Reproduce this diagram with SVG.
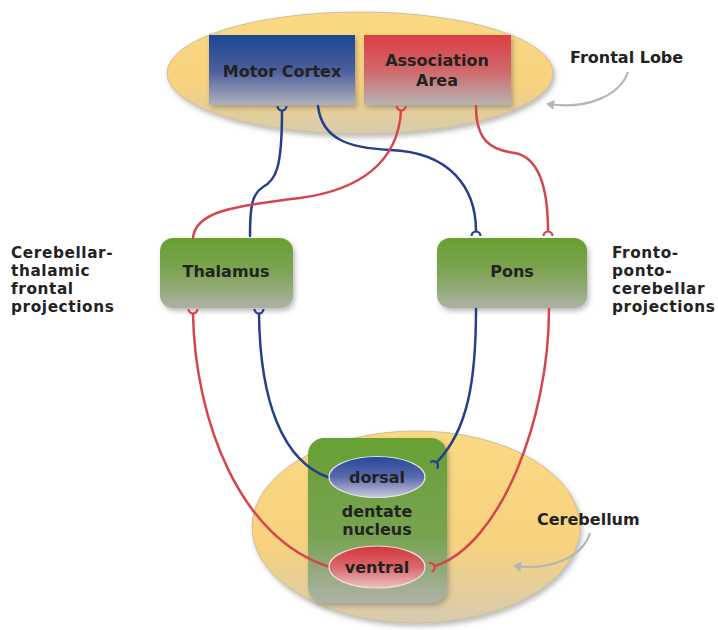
<svg xmlns="http://www.w3.org/2000/svg" width="718" height="630" viewBox="0 0 718 630">
<style>
.t{font-family:"DejaVu Sans",Verdana,sans-serif;font-weight:bold;font-size:16px;fill:#222}
.l{font-size:15.3px;letter-spacing:0.6px}
.c{text-anchor:middle}
.b{fill:none;stroke:#253f8c;stroke-width:2.5;stroke-linecap:round}
.r{fill:none;stroke:#d6454d;stroke-width:2.5;stroke-linecap:round}
.g{fill:none;stroke:#b5b5b5;stroke-width:2.2}
</style>
<defs>
<linearGradient id="gy" x1="0" y1="0" x2="0" y2="1"><stop offset="0" stop-color="#fbd983"/><stop offset="0.6" stop-color="#f7d27f"/><stop offset="1" stop-color="#d6cbb0"/></linearGradient>
<linearGradient id="gb" x1="0" y1="0" x2="0" y2="1"><stop offset="0" stop-color="#1d4894"/><stop offset="0.5" stop-color="#4a5d9c"/><stop offset="1" stop-color="#b0b1bd"/></linearGradient>
<linearGradient id="gr" x1="0" y1="0" x2="0" y2="1"><stop offset="0" stop-color="#dc3e45"/><stop offset="0.5" stop-color="#d0676a"/><stop offset="1" stop-color="#b8b3b3"/></linearGradient>
<linearGradient id="gg" x1="0" y1="0" x2="0" y2="1"><stop offset="0" stop-color="#67a031"/><stop offset="0.45" stop-color="#7ca350"/><stop offset="1" stop-color="#acb1a3"/></linearGradient>
<linearGradient id="gd" x1="0" y1="0" x2="0" y2="1"><stop offset="0" stop-color="#67a033"/><stop offset="0.6" stop-color="#78a352"/><stop offset="1" stop-color="#aeb2a6"/></linearGradient>
<linearGradient id="gbo" x1="0" y1="0" x2="0" y2="1"><stop offset="0" stop-color="#27479a"/><stop offset="0.5" stop-color="#5a69ac"/><stop offset="1" stop-color="#c9cadb"/></linearGradient>
<linearGradient id="gro" x1="0" y1="0" x2="0" y2="1"><stop offset="0" stop-color="#d4353c"/><stop offset="0.5" stop-color="#d9686c"/><stop offset="1" stop-color="#ecc1c1"/></linearGradient>
<filter id="sh" x="-20%" y="-20%" width="140%" height="150%"><feDropShadow dx="2" dy="3" stdDeviation="2.5" flood-color="#555" flood-opacity="0.4"/></filter>
<marker id="fb" markerUnits="userSpaceOnUse" orient="auto-start-reverse" refX="0" refY="0" markerWidth="12" markerHeight="12" overflow="visible"><path d="M5,-4.5 A4.5,4.5 0 0 0 5,4.5" fill="none" stroke="#253f8c" stroke-width="2.2"/></marker>
<marker id="fr" markerUnits="userSpaceOnUse" orient="auto-start-reverse" refX="0" refY="0" markerWidth="12" markerHeight="12" overflow="visible"><path d="M5,-4.5 A4.5,4.5 0 0 0 5,4.5" fill="none" stroke="#d6454d" stroke-width="2.2"/></marker>
<marker id="ah" markerUnits="userSpaceOnUse" orient="auto" refX="2" refY="0" markerWidth="14" markerHeight="14" overflow="visible"><path d="M-4,-5 L4,0 L-4,5 Z" fill="#b5b5b5"/></marker>
</defs>
<rect width="718" height="630" fill="#fff"/>

<g id="frontal-lobe">
<ellipse cx="360" cy="73" rx="193" ry="61" fill="url(#gy)" stroke="#cdbf98" stroke-width="1" filter="url(#sh)"/>
<text class="t" x="570" y="63">Frontal Lobe</text>
<path class="g" d="M628,72 C620,95 588,110 548,104" marker-end="url(#ah)"/>
</g>

<g id="cerebellum">
<ellipse cx="416" cy="527" rx="164" ry="96" fill="url(#gy)" stroke="#cdbf98" stroke-width="1" filter="url(#sh)"/>
<text class="t" x="537" y="525">Cerebellum</text>
<path class="g" d="M590,533 C583,556 552,571 515,566" marker-end="url(#ah)"/>
</g>

<g id="motor-cortex">
<rect x="209" y="35" width="146" height="70" fill="url(#gb)" filter="url(#sh)"/>
<text class="t c" x="282" y="77">Motor Cortex</text>
</g>

<g id="association-area">
<rect x="364" y="35" width="147" height="70" fill="url(#gr)" filter="url(#sh)"/>
<text class="t c" x="437" y="66">Association</text>
<text class="t c" x="437" y="86">Area</text>
</g>

<g id="thalamus">
<rect x="160" y="238" width="133" height="70" rx="13" fill="url(#gg)" filter="url(#sh)"/>
<text class="t c" x="226" y="277">Thalamus</text>
</g>

<g id="pons">
<rect x="437" y="238" width="150" height="70" rx="13" fill="url(#gg)" filter="url(#sh)"/>
<text class="t c" x="512" y="277">Pons</text>
</g>

<g id="dentate-nucleus">
<rect x="308" y="438" width="139" height="165" rx="16" fill="url(#gd)" filter="url(#sh)"/>
<text class="t c" x="377" y="517">dentate</text>
<text class="t c" x="377" y="535">nucleus</text>
</g>

<g id="label-left">
<text class="t l" x="11" y="258">Cerebellar-</text>
<text class="t l" x="11" y="276">thalamic</text>
<text class="t l" x="11" y="294">frontal</text>
<text class="t l" x="11" y="312">projections</text>
</g>

<g id="label-right">
<text class="t l" x="612" y="258">Fronto-</text>
<text class="t l" x="612" y="276">ponto-</text>
<text class="t l" x="612" y="294">cerebellar</text>
<text class="t l" x="612" y="312">projections</text>
</g>

<g id="connectors">
<path class="b" d="M282,111 C282,168 276,180 263,187 C252,194 250,206 250,236" marker-start="url(#fb)"/>
<path class="b" d="M318,106 C322,140 350,148 390,150 C450,152 476,188 476,231" marker-end="url(#fb)"/>
<path class="r" d="M401,111 C398,162 360,190 300,198 C232,206 195,212 193,238" marker-start="url(#fr)"/>
<path class="r" d="M476,106 C476,140 490,150 515,153 C540,158 548,190 548,231" marker-end="url(#fr)"/>
<path class="r" d="M193,314 C195,420 240,540 330,567" marker-start="url(#fr)"/>
<path class="b" d="M259,314 C260,400 282,462 330,478" marker-start="url(#fb)"/>
<path class="b" d="M476,309 C476,380 468,430 437,462" marker-end="url(#fb)"/>
<path class="r" d="M549,309 C549,420 500,545 435,566" marker-end="url(#fr)"/>
</g>

<g id="dorsal">
<ellipse cx="377" cy="477" rx="48" ry="20.5" fill="url(#gbo)" stroke="#e6e6ee" stroke-width="1.2"/>
<text class="t c" x="377" y="483">dorsal</text>
</g>

<g id="ventral">
<ellipse cx="377" cy="567" rx="48" ry="21" fill="url(#gro)" stroke="#f2dede" stroke-width="1.2"/>
<text class="t c" x="377" y="573">ventral</text>
</g>
</svg>
